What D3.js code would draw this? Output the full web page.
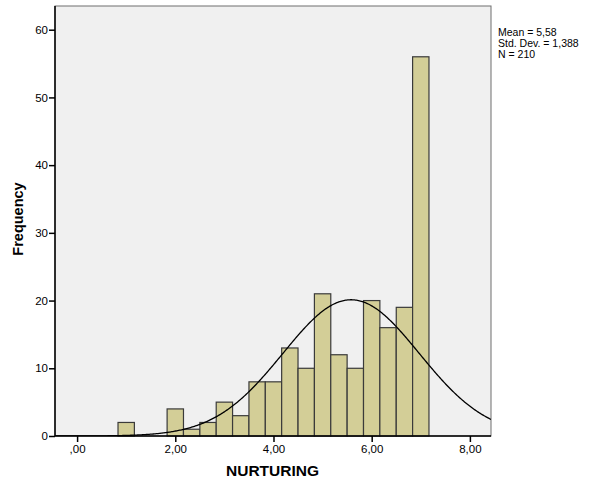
<!DOCTYPE html>
<html>
<head>
<meta charset="utf-8">
<script src="https://cdn.jsdelivr.net/npm/d3@7"></script>
<style>
  body { margin: 0; background: #fff; }
  svg text { font-family: Arial, "Liberation Sans", sans-serif; fill: #000; }
</style>
</head>
<body>
<svg id="chart" width="596" height="486"></svg>
<script>
// histogram of NURTURING, bins of width 1/3
const binCenters = [1.000, 2.000, 2.333, 2.667, 3.000, 3.333, 3.667, 4.000, 4.333, 4.667, 5.000, 5.333, 5.667, 6.000, 6.333, 6.667, 7.000];
const counts     = [2,     4,     1,     2,     5,     3,     8,     8,     13,    10,    21,    12,    10,    20,    16,    19,    56];
const binWidth = 1 / 3;

const xTicks = [0, 2, 4, 6, 8];
const yTicks = [0, 10, 20, 30, 40, 50, 60];

const statLabels = ["Mean = 5,58", "Std. Dev. = 1,388", "N = 210"];
const mean = 5.58, sd = 1.388, n = 210;

const fmt = v => v.toFixed(2).replace(".", ",").replace(/^0/, "");

const svg = d3.select("#chart");
const pLeft = 55, pRight = 491, pTop = 6, pBottom = 436;

const x = d3.scaleLinear().domain([-0.45, 8.43]).range([pLeft, pRight]);
const y = d3.scaleLinear().domain([0, 63.5]).range([pBottom, pTop]);

// plot background + frame
svg.append("rect")
  .attr("x", pLeft).attr("y", pTop)
  .attr("width", pRight - pLeft).attr("height", pBottom - pTop)
  .attr("fill", "#f0f0f0")
  .attr("stroke", "#6e6e6e")
  .attr("stroke-width", 1);

svg.append("clipPath").attr("id", "clip")
  .append("rect")
  .attr("x", pLeft).attr("y", pTop)
  .attr("width", pRight - pLeft).attr("height", pBottom - pTop);

// bars
svg.append("g").selectAll("rect")
  .data(binCenters.map((c, i) => ({ c: c, v: counts[i] })))
  .join("rect")
  .attr("x", d => x(d.c - binWidth / 2))
  .attr("y", d => y(d.v))
  .attr("width", d => x(d.c + binWidth / 2) - x(d.c - binWidth / 2))
  .attr("height", d => y(0) - y(d.v))
  .attr("fill", "#d3ce97")
  .attr("stroke", "#3a3a3a")
  .attr("stroke-width", 1.2);

// normal curve from the stated mean / sd
const scale = n * binWidth / (sd * Math.sqrt(2 * Math.PI));
const pts = d3.range(-0.45, 8.44, 0.02).map(v => [v, scale * Math.exp(-0.5 * Math.pow((v - mean) / sd, 2))]);
svg.append("path")
  .datum(pts)
  .attr("clip-path", "url(#clip)")
  .attr("d", d3.line().x(d => x(d[0])).y(d => y(d[1])))
  .attr("fill", "none")
  .attr("stroke", "#000")
  .attr("stroke-width", 1.3);

// axes
const yAxis = svg.append("g")
  .attr("transform", `translate(${pLeft},0)`)
  .call(d3.axisLeft(y).tickValues(yTicks).tickSize(6).tickPadding(1).tickFormat(d3.format("d")));
const xAxis = svg.append("g")
  .attr("transform", `translate(0,${pBottom})`)
  .call(d3.axisBottom(x).tickValues(xTicks).tickSize(6).tickPadding(3).tickFormat(fmt));

[xAxis, yAxis].forEach(a => {
  a.select(".domain").remove();
  a.selectAll("line").attr("stroke", "#000").attr("stroke-width", 1.5);
  a.selectAll("text").style("font-size", "11.5px").style("font-family", "Arial, 'Liberation Sans', sans-serif");
});

svg.append("line")
  .attr("x1", pLeft).attr("x2", pLeft).attr("y1", pTop).attr("y2", pBottom)
  .attr("stroke", "#000").attr("stroke-width", 1.5);
svg.append("line")
  .attr("x1", pLeft).attr("x2", pRight).attr("y1", pBottom).attr("y2", pBottom)
  .attr("stroke", "#000").attr("stroke-width", 1.5);

// titles
svg.append("text")
  .attr("x", (pLeft + pRight) / 2 - 0.5).attr("y", 476)
  .attr("text-anchor", "middle")
  .style("font-size", "15.5px").style("font-weight", "bold")
  .text("NURTURING");

svg.append("text")
  .attr("transform", "translate(23,219) rotate(-90)")
  .attr("text-anchor", "middle")
  .style("font-size", "14.5px").style("font-weight", "bold")
  .text("Frequency");

// stats box
svg.append("g").selectAll("text")
  .data(statLabels)
  .join("text")
  .attr("x", 498)
  .attr("y", (d, i) => 36 + i * 10.8)
  .style("font-size", "10.5px")
  .text(d => d);
</script>
</body>
</html>
